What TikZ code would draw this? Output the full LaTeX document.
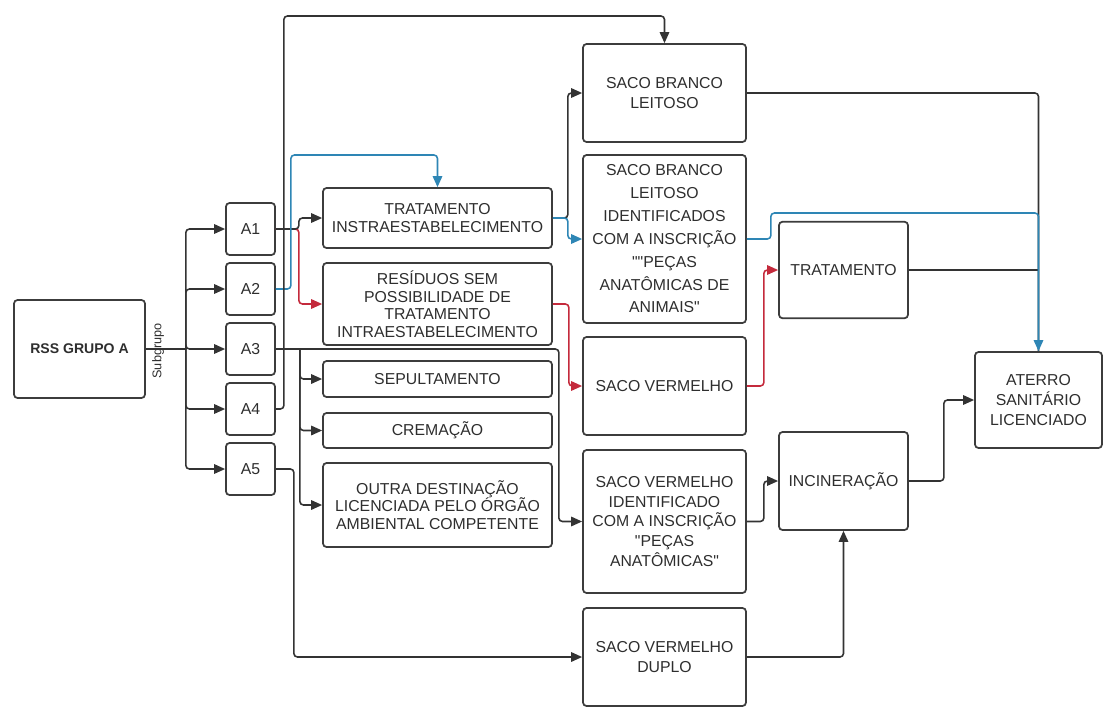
\documentclass[tikz,border=0pt]{standalone}
\usepackage{fontspec}
\setmainfont{Liberation Sans}
\usetikzlibrary{arrows.meta,positioning}
\definecolor{linedark}{HTML}{333333}
\definecolor{boxline}{HTML}{3C3C3C}
\definecolor{boxtext}{HTML}{2E2E2E}
\definecolor{flowblue}{HTML}{2E86B5}
\definecolor{flowred}{HTML}{C42A3C}
\tikzset{
  box/.style={draw=boxline, line width=1pt, rounded corners=2pt, align=center, fill=white, text=boxtext, inner sep=2pt, font=\fontsize{9}{10}\selectfont},
  loose/.style={font=\fontsize{9}{11.3}\selectfont},
  vloose/.style={font=\fontsize{9}{13}\selectfont},
  subbox/.style={box, minimum width=0.98cm, minimum height=1.04cm},
  midbox/.style={box, minimum width=4.58cm},
  sacobox/.style={box, loose, minimum width=3.26cm},
  endbox/.style={box, loose, minimum width=2.58cm, minimum height=1.93cm},
  plainline/.style={line width=0.9pt, draw=linedark, rounded corners=2pt},
  arrow/.style={plainline, -{Triangle[length=2.2mm,width=1.9mm]}},
  bluearrow/.style={arrow, draw=flowblue},
  redarrow/.style={arrow, draw=flowred}
}

\begin{document}
\begin{tikzpicture}[x=0.02cm, y=-0.02cm]
  \useasboundingbox (0,0) rectangle (1103,707);

  \node[box, minimum width=2.62cm, minimum height=1.96cm, font=\fontsize{8}{9}\selectfont\bfseries] (rss) at (79.5,349) {RSS GRUPO A};
  \node[rotate=90, text=boxtext, font=\fontsize{7.2}{8}\selectfont] (sublabel) at (158,351) {Subgrupo};

  \node[subbox] (a1) at (250.5,229) {A1};
  \node[subbox] (a2) at (250.5,289) {A2};
  \node[subbox] (a3) at (250.5,349) {A3};
  \node[subbox] (a4) at (250.5,409) {A4};
  \node[subbox] (a5) at (250.5,469) {A5};

  \node[midbox, minimum height=1.2cm] (ti) at (437.5,218) {TRATAMENTO\\INSTRAESTABELECIMENTO};
  \node[midbox, minimum height=1.64cm] (res) at (437.5,304) {RESÍDUOS SEM\\POSSIBILIDADE DE\\TRATAMENTO\\INTRAESTABELECIMENTO};
  \node[midbox, minimum height=0.72cm] (sep) at (437.5,379) {SEPULTAMENTO};
  \node[midbox, minimum height=0.7cm] (cre) at (437.5,430.5) {CREMAÇÃO};
  \node[midbox, minimum height=1.68cm] (out) at (437.5,505) {OUTRA DESTINAÇÃO\\LICENCIADA PELO ÓRGÃO\\AMBIENTAL COMPETENTE};

  \node[sacobox, minimum height=1.96cm] (sbl) at (664.5,93) {SACO BRANCO\\LEITOSO};
  \node[sacobox, vloose, minimum height=3.36cm] (sbi) at (664.5,239) {SACO BRANCO\\LEITOSO\\IDENTIFICADOS\\COM A INSCRIÇÃO\\\textquotedbl\textquotedbl PEÇAS\\ANATÔMICAS DE\\ANIMAIS\textquotedbl};
  \node[sacobox, minimum height=1.96cm] (sv) at (664.5,386) {SACO VERMELHO};
  \node[sacobox, minimum height=2.86cm] (svi) at (664.5,521.5) {SACO VERMELHO\\IDENTIFICADO\\COM A INSCRIÇÃO\\\textquotedbl PEÇAS\\ANATÔMICAS\textquotedbl};
  \node[sacobox, minimum height=1.96cm] (duplo) at (664.5,657) {SACO VERMELHO\\DUPLO};

  \node[endbox] (trat) at (843.5,270) {TRATAMENTO};
  \node[endbox, minimum height=1.96cm] (inc) at (843.5,481) {INCINERAÇÃO};
  \node[endbox, minimum width=2.54cm, minimum height=1.92cm] (aterro) at (1038.5,400) {ATERRO\\SANITÁRIO\\LICENCIADO};

  % subgrupos
  \draw[plainline] (rss.east) -- ++(40,0) coordinate (trunk);
  \foreach \s in {a1,a2,a3,a4,a5}
    \draw[arrow] (trunk) |- (\s.west);

  % A1 .. A5
  \draw[redarrow] (a1.east) -- ++(23,0) |- (res.west);
  \draw[arrow] (a1.east) -- ++(23,0) |- (ti.west);
  \draw[bluearrow] (a2.east) -- ++(15,0) -- ++(0,-134) -| (ti.north);
  \draw[arrow] (a4.east) -- ++(8,0) -- ++(0,-393) -| (sbl.north);
  \draw[arrow] (a3.east) -- ++(283,0) |- (svi.west);
  \path (a3.east) -- ++(24,0) coordinate (j3);
  \draw[arrow] (j3) |- (sep.west);
  \draw[arrow] (j3) |- (cre.west);
  \draw[arrow] (j3) |- (out.west);
  \draw[arrow] (a5.east) -- ++(18,0) |- (duplo.west);

  % sacos
  \draw[arrow] (ti.east) -- ++(15,0) |- (sbl.west);
  \draw[bluearrow] (ti.east) -- ++(15,0) |- (sbi.west);
  \draw[redarrow] (res.east) -- ++(16,0) |- (sv.west);
  \draw[redarrow] (sv.east) -- ++(17,0) |- (trat.west);
  \draw[arrow] (svi.east) -- ++(17,0) |- (inc.west);
  \draw[arrow] (duplo.east) -| (inc.south);
  \draw[arrow] (inc.east) -- ++(35,0) |- (aterro.west);

  % destino final
  \draw[plainline] (sbl.east) -| (aterro.north);
  \draw[plainline] (trat.east) -- (trat.east -| aterro.north);
  \draw[bluearrow] (sbi.east) -- ++(24,0) -- ++(0,-26) -| (aterro.north);
\end{tikzpicture}
\end{document}
